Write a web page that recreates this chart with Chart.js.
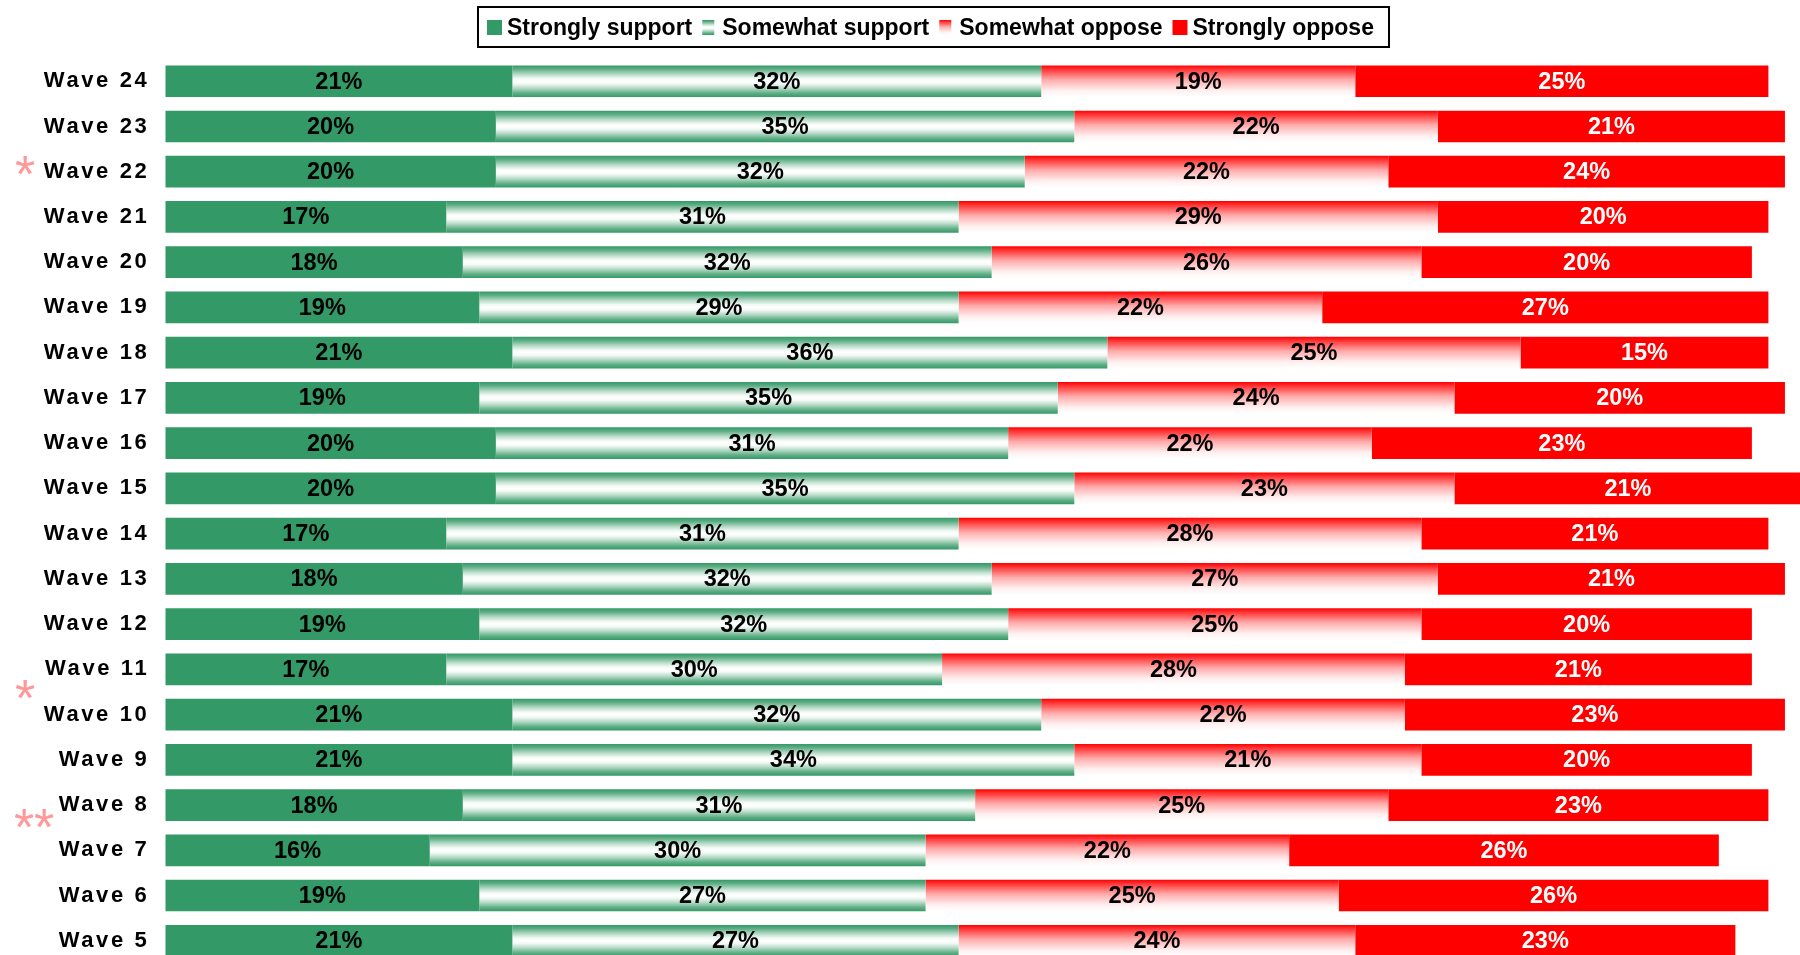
<!DOCTYPE html>
<html><head><meta charset="utf-8">
<script src="https://cdn.jsdelivr.net/npm/chart.js@4/dist/chart.umd.min.js"></script>
<style>
html,body{margin:0;padding:0;background:#fff;overflow:hidden;}
#wrap{width:1800px;height:955px;overflow:hidden;position:relative;background:#fff;}
canvas{display:block;}
</style>
</head><body>
<div id="wrap"><canvas id="c" width="1830" height="975"></canvas></div>
<script>
const waves = ['Wave 24','Wave 23','Wave 22','Wave 21','Wave 20','Wave 19','Wave 18','Wave 17','Wave 16','Wave 15','Wave 14','Wave 13','Wave 12','Wave 11','Wave 10','Wave 9','Wave 8','Wave 7','Wave 6','Wave 5'];
const stronglySupport = [21,20,20,17,18,19,21,19,20,20,17,18,19,17,21,21,18,16,19,21];
const somewhatSupport = [32,35,32,31,32,29,36,35,31,35,31,32,32,30,32,34,31,30,27,27];
const somewhatOppose  = [19,22,22,29,26,22,25,24,22,23,28,27,25,28,22,21,25,22,25,24];
const stronglyOppose  = [25,21,24,20,20,27,15,20,23,21,21,21,20,21,23,20,23,26,26,23];
const seriesNames = ['Strongly support','Somewhat support','Somewhat oppose','Strongly oppose'];
const footnotes = [
  {row:'Wave 22', text:'*'},
  {row:'Wave 11', text:'*'},
  {row:'Wave 8',  text:'**'}
];

const GREEN = '#339966', RED = '#ff0000';
const FONT = '"Liberation Sans", Arial, sans-serif';
const BAR_PCT = 0.70;

function rowThickness(chart){
  const y = chart.scales.y;
  return (y.getPixelForValue(1) - y.getPixelForValue(0)) * BAR_PCT;
}
function greenBand(ctx, y0, y1){
  const g = ctx.createLinearGradient(0, y0, 0, y1);
  g.addColorStop(0, GREEN);
  g.addColorStop(0.12, '#5fae86');
  g.addColorStop(0.28, '#b5dac6');
  g.addColorStop(0.42, '#f4faf6');
  g.addColorStop(0.5, '#ffffff');
  g.addColorStop(0.58, '#f4faf6');
  g.addColorStop(0.72, '#b5dac6');
  g.addColorStop(0.88, '#5fae86');
  g.addColorStop(1, GREEN);
  return g;
}
function redFade(ctx, y0, y1){
  const g = ctx.createLinearGradient(0, y0, 0, y1);
  g.addColorStop(0, RED);
  g.addColorStop(0.12, '#ff3333');
  g.addColorStop(0.45, '#ffaaaa');
  g.addColorStop(0.8, '#fff0f0');
  g.addColorStop(1, '#ffffff');
  return g;
}
function scripted(maker, fallback){
  return function(c){
    if (c.type !== 'data') return fallback;
    const chart = c.chart, y = chart.scales.y;
    if (!y || !chart.chartArea) return fallback;
    const cy = y.getPixelForValue(c.dataIndex);
    const h = rowThickness(chart);
    return maker(chart.ctx, cy - h/2, cy + h/2);
  };
}

const labelColors = ['#000000','#000000','#000000','#ffffff'];

const letterSpacingPlugin = {
  id: 'spacing',
  beforeDraw(chart){ chart.ctx.letterSpacing = '2.6px'; },
  beforeDatasetsDraw(chart){ chart.ctx.letterSpacing = '0px'; }
};

const valueLabels = {
  id: 'valueLabels',
  afterDatasetsDraw(chart){
    const ctx = chart.ctx;
    ctx.save();
    ctx.letterSpacing = '0px';
    ctx.font = 'bold 23.5px ' + FONT;
    ctx.textAlign = 'center';
    ctx.textBaseline = 'middle';
    chart.data.datasets.forEach((ds, di) => {
      const meta = chart.getDatasetMeta(di);
      ctx.fillStyle = labelColors[di];
      meta.data.forEach((bar, i) => {
        const x = (bar.x + bar.base) / 2;
        ctx.fillText(ds.data[i] + '%', x, bar.y + 1);
      });
    });
    ctx.restore();
  }
};

const legendBox = {
  id: 'legendBox',
  afterDraw(chart){
    const ctx = chart.ctx;
    ctx.save();
    ctx.letterSpacing = '0px';
    ctx.lineWidth = 2;
    ctx.strokeStyle = '#000';
    ctx.strokeRect(478, 7, 911, 40);
    ctx.font = 'bold 23px ' + FONT;
    ctx.textBaseline = 'alphabetic';
    ctx.textAlign = 'left';
    let x = 487;
    const sy = 20, sh = 15;
    seriesNames.forEach((name, i) => {
      const w = (i === 1 || i === 2) ? 12 : 15;
      if (i === 0) ctx.fillStyle = GREEN;
      else if (i === 1) ctx.fillStyle = greenBand(ctx, sy, sy + sh);
      else if (i === 2) ctx.fillStyle = redFade(ctx, sy, sy + sh);
      else ctx.fillStyle = RED;
      ctx.fillRect(x, sy, w, sh);
      ctx.fillStyle = '#000';
      const tx = x + 20;
      ctx.fillText(name, tx, 35);
      x = tx + ctx.measureText(name).width + 10;
    });
    ctx.restore();
  }
};

const footnotePlugin = {
  id: 'footnotes',
  afterDraw(chart){
    const ctx = chart.ctx, y = chart.scales.y;
    ctx.save();
    ctx.letterSpacing = '0px';
    ctx.font = '52px ' + FONT;
    ctx.fillStyle = '#ff9999';
    ctx.textAlign = 'left';
    ctx.textBaseline = 'alphabetic';
    const step = y.getPixelForValue(1) - y.getPixelForValue(0);
    footnotes.forEach(f => {
      const idx = waves.indexOf(f.row);
      let cy = y.getPixelForValue(idx);
      let cx = 25;
      if (f.row === 'Wave 22') cy -= 6.5;
      else if (f.row === 'Wave 11') cy += step / 2 - 2;
      else if (f.row === 'Wave 8') { cy += 13; cx = 34; }
      const m = ctx.measureText(f.text);
      const inkL = -m.actualBoundingBoxLeft, inkR = m.actualBoundingBoxRight;
      const base = cy - (m.actualBoundingBoxDescent - m.actualBoundingBoxAscent) / 2;
      const left = cx - (inkL + inkR) / 2;
      ctx.fillText(f.text, left, base);
    });
    ctx.restore();
  }
};

const seriesValues = [stronglySupport, somewhatSupport, somewhatOppose, stronglyOppose];
const fills = [
  GREEN,
  scripted(greenBand, '#a0d0b8'),
  scripted(redFade, '#ff8080'),
  RED
];

new Chart(document.getElementById('c'), {
  type: 'bar',
  data: {
    labels: waves,
    datasets: seriesNames.map((n, i) => ({
      label: n,
      data: seriesValues[i],
      backgroundColor: fills[i],
      borderWidth: 0,
      categoryPercentage: 1,
      barPercentage: BAR_PCT
    }))
  },
  options: {
    indexAxis: 'y',
    responsive: false,
    animation: false,
    devicePixelRatio: 1,
    layout: { padding: { left: 0, right: 12, top: 58.6, bottom: 11.6 } },
    plugins: { legend: { display: false }, tooltip: { enabled: false } },
    scales: {
      x: { stacked: true, min: 0, max: 100, display: false },
      y: {
        stacked: true,
        grid: { display: false, drawTicks: false },
        border: { display: false },
        ticks: { color: '#000', font: { family: FONT, size: 22, weight: 'bold' }, padding: 16 },
        afterFit(s){ s.width = 165.3; s.paddingTop = 0; s.paddingBottom = 0; }
      }
    }
  },
  plugins: [letterSpacingPlugin, valueLabels, legendBox, footnotePlugin]
});
</script>
</body></html>
